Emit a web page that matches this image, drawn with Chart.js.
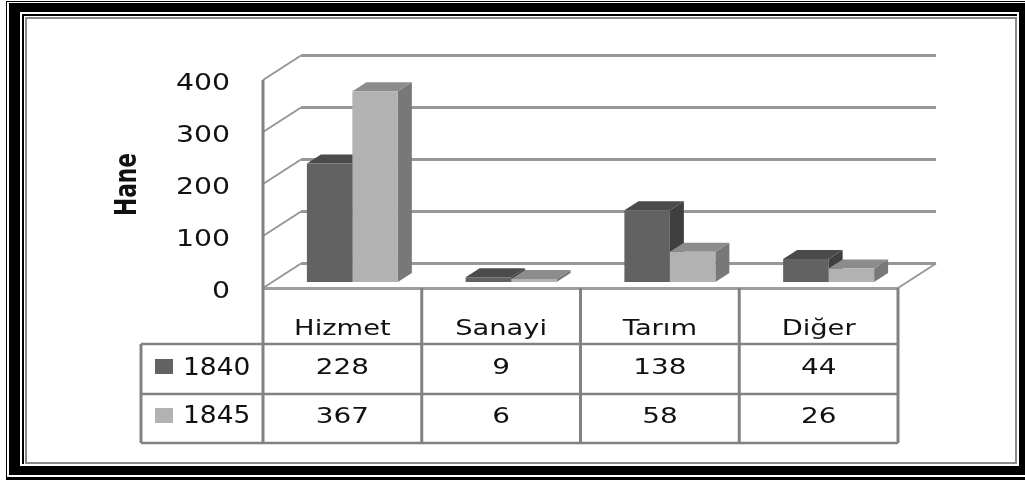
<!DOCTYPE html>
<html>
<head>
<meta charset="utf-8">
<script src="https://cdn.jsdelivr.net/npm/chart.js@4.4.1/dist/chart.umd.min.js"></script>
<style>
  html, body { margin: 0; padding: 0; background: #fff; }
  canvas { display: block; }
</style>
</head>
<body>
<canvas id="hane" width="1025" height="480"></canvas>
<script>
const categories = ['Hizmet', 'Sanayi', 'Tarım', 'Diğer'];
const seriesNames = ['1840', '1845'];
const values1840 = [228, 9, 138, 44];
const values1845 = [367, 6, 58, 26];
const yTicks = [0, 100, 200, 300, 400];
const axisTitle = 'Hane';

const frontColors = ['#626262', '#b2b2b2'];
const topColors = ['#4b4b4b', '#8c8c8c'];
const sideColors = ['#3f3f3f', '#787878'];

// bar plane -> front plane, front plane -> back wall, bar depth
const FRONT = { dx: -10, dy: 6 };
const BACK = { dx: 38, dy: -24.5 };
const DEPTH = { dx: 14, dy: -9 };

function txt(ctx, s, x, y, size, sx, align, bold) {
    ctx.save();
    ctx.translate(x, y);
    ctx.scale(sx, 1);
    ctx.font = (bold ? 'bold ' : '') + size + 'px "DejaVu Sans"';
    ctx.textAlign = align;
    ctx.textBaseline = 'alphabetic';
    ctx.fillStyle = '#111';
    ctx.fillText(s, 0, 0);
    ctx.restore();
}

function line(ctx, x1, y1, x2, y2, color, w) {
    ctx.strokeStyle = color;
    ctx.lineWidth = w;
    ctx.beginPath();
    ctx.moveTo(x1, y1);
    ctx.lineTo(x2, y2);
    ctx.stroke();
}

function drawFrame(ctx) {
    const W = 1025, H = 480;
    const r = (x0, y0, x1, y1, c) => { ctx.fillStyle = c; ctx.fillRect(x0, y0, x1 - x0, y1 - y0); };
    r(0, 0, W, H, '#fff');
    r(6, 1, W + 10, H, '#000');
    r(7, 2, W + 10, 477, '#fff');
    r(9, 3, W + 10, 475, '#000');
    r(20, 12, 1019, 466, '#fff');
    r(22, 14, 1017, 464, '#000');
    r(24, 16, 1017, 464, '#fff');
    r(25, 17, 1017, 464, '#8a8a8a');
    r(27, 19, 1015, 462, '#fff');
}

function tableGeom(chart) {
    const xs = chart.scales.x, ys = chart.scales.y;
    const catW = (xs.right - xs.left) / categories.length;
    const left = xs.left + FRONT.dx;
    const floorY = ys.getPixelForValue(0) + FRONT.dy;
    return { xs, ys, catW, left, right: left + catW * categories.length, floorY };
}

const chart3d = {
    id: 'chart3d',
    beforeDraw(chart) {
        drawFrame(chart.ctx);
    },
    beforeDatasetsDraw(chart) {
        const ctx = chart.ctx;
        const g = tableGeom(chart);
        const grid = '#979797';
        const fy = v => g.ys.getPixelForValue(v) + FRONT.dy;

        // back wall gridlines + left wall diagonals
        yTicks.forEach(v => {
            const y = fy(v);
            line(ctx, g.left + BACK.dx, y + BACK.dy, g.right + BACK.dx, y + BACK.dy, grid, 3);
            line(ctx, g.left, y, g.left + BACK.dx, y + BACK.dy, grid, 2);
        });
        // floor right edge
        line(ctx, g.right, g.floorY, g.right + BACK.dx, g.floorY + BACK.dy, grid, 2);

        // side and top faces, then the library draws the fronts
        categories.forEach((c, j) => {
            [0, 1].forEach(i => {
                const bar = chart.getDatasetMeta(i).data[j].getProps(['x', 'y', 'base', 'width'], true);
                const x0 = bar.x - bar.width / 2, x1 = bar.x + bar.width / 2;
                const yt = bar.y, yb = bar.base;
                ctx.fillStyle = sideColors[i];
                ctx.beginPath();
                ctx.moveTo(x1, yt);
                ctx.lineTo(x1 + DEPTH.dx, yt + DEPTH.dy);
                ctx.lineTo(x1 + DEPTH.dx, yb + DEPTH.dy);
                ctx.lineTo(x1, yb);
                ctx.closePath();
                ctx.fill();
                ctx.fillStyle = topColors[i];
                ctx.beginPath();
                ctx.moveTo(x0, yt);
                ctx.lineTo(x0 + DEPTH.dx, yt + DEPTH.dy);
                ctx.lineTo(x1 + DEPTH.dx, yt + DEPTH.dy);
                ctx.lineTo(x1, yt);
                ctx.closePath();
                ctx.fill();
            });
        });
    },
    afterDraw(chart) {
        const ctx = chart.ctx;
        const g = tableGeom(chart);
        const border = '#828282';
        const fy = v => g.ys.getPixelForValue(v) + FRONT.dy;

        // tick labels
        yTicks.forEach(v => txt(ctx, String(v), 230, fy(v) + 10, 22.5, 1.26, 'right'));

        // axis title
        ctx.save();
        ctx.translate(136, 184.5);
        ctx.scale(1.39, 1);
        ctx.rotate(-Math.PI / 2);
        ctx.font = 'bold 21.7px "DejaVu Sans"';
        ctx.textAlign = 'center';
        ctx.textBaseline = 'alphabetic';
        ctx.fillStyle = '#111';
        ctx.fillText(axisTitle, 0, 0);
        ctx.restore();

        // data table
        const legendLeft = 141;
        const rowY = [g.floorY, 344, 394, 443];
        line(ctx, g.left, g.floorY + 0.5, g.right, g.floorY + 0.5, '#9e9e9e', 3);
        line(ctx, g.left, fy(400), g.left, rowY[3], border, 3);
        for (let k = 1; k <= categories.length; k++) {
            const x = g.left + k * g.catW;
            line(ctx, x, g.floorY, x, rowY[3], border, 3);
        }
        [1, 2, 3].forEach(k => line(ctx, legendLeft, rowY[k], g.right, rowY[k], border, 2.5));
        line(ctx, legendLeft, rowY[1], legendLeft, rowY[3], border, 3);

        categories.forEach((c, j) => {
            const cx = g.left + (j + 0.5) * g.catW;
            txt(ctx, c, cx, 335, 21, 1.3, 'center');
            txt(ctx, String(values1840[j]), cx, 374, 20.5, 1.36, 'center');
            txt(ctx, String(values1845[j]), cx, 423, 20.5, 1.36, 'center');
        });

        const keyY = [359, 408];
        const textY = [375, 423];
        seriesNames.forEach((s, i) => {
            ctx.fillStyle = frontColors[i];
            ctx.fillRect(155, keyY[i], 18, 15);
            txt(ctx, s, 183, textY[i], 25, 1.06, 'left');
        });
    }
};

new Chart(document.getElementById('hane'), {
    type: 'bar',
    data: {
        labels: categories,
        datasets: [
            { label: seriesNames[0], data: values1840, backgroundColor: frontColors[0], borderWidth: 0 },
            { label: seriesNames[1], data: values1845, backgroundColor: frontColors[1], borderWidth: 0 }
        ]
    },
    options: {
        responsive: false,
        animation: false,
        layout: { padding: { left: 273, right: 117, top: 74, bottom: 198 } },
        datasets: { bar: { categoryPercentage: 0.573, barPercentage: 1 } },
        plugins: { legend: { display: false }, tooltip: { enabled: false } },
        scales: {
            x: { display: false },
            y: { display: false, min: 0, max: 400 }
        }
    },
    plugins: [chart3d]
});
</script>
</body>
</html>
